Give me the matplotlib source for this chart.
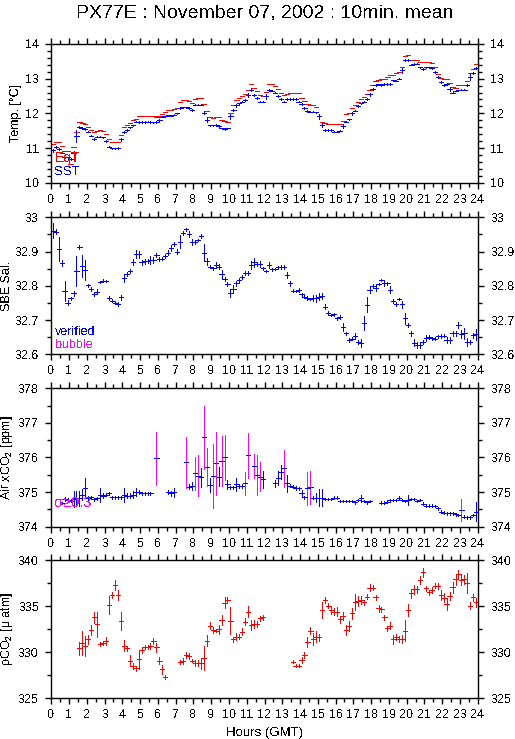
import numpy as np
import matplotlib
matplotlib.use('Agg')
import matplotlib.pyplot as plt
from matplotlib.ticker import MultipleLocator, FormatStrFormatter

nan = np.nan

# 10-minute means, 144 per day, centred on each interval
hours = (np.arange(144) + 0.5) / 6.0

sst = [
    10.94, 11.04, 10.97, 10.87, 10.73, 10.73, 10.68, 10.85, 11.35, 11.60, 11.57, 11.55,
    11.47, 11.36, 11.26, 11.33, 11.33, 11.31, 11.20, 11.04, 10.99, 10.99, 11.00, 11.25,
    11.47, 11.52, 11.60, 11.65, 11.76, 11.75, 11.75, 11.75, 11.76, 11.75, 11.74, 11.75,
    11.81, 11.90, 11.91, 11.94, 11.93, 11.96, 12.00, 12.15, 12.17, 12.17, 12.15, 12.10,
    12.25, 12.25, 12.25, 12.02, 11.81, 11.65, 11.65, 11.67, 11.64, 11.57, 11.54, 11.57,
    11.91, 12.10, 12.23, 12.29, 12.34, 12.39, 12.53, 12.68, 12.53, 12.44, 12.34, 12.34,
    12.49, 12.68, 12.65, 12.60, 12.50, 12.41, 12.34, 12.41, 12.41, 12.41, 12.41, 12.34,
    12.27, 12.15, 12.07, 12.05, 12.05, 12.03, 11.91, 11.67, 11.52, 11.52, 11.52, 11.47,
    11.47, 11.50, 11.64, 11.76, 11.83, 12.00, 12.08, 12.20, 12.29, 12.34, 12.41, 12.55,
    12.70, 12.82, 12.84, 12.82, 12.85, 12.85, 12.85, 12.95, 12.94, 13.00, 13.24, 13.55,
    13.55, 13.40, 13.42, 13.43, 13.33, 13.28, 13.33, 13.33, 13.31, 13.19, 13.05, 12.90,
    12.82, 12.85, 12.70, 12.60, 12.65, 12.66, 12.68, 12.68, 12.82, 13.04, 13.16, 13.31,
]
sst_err = [
    .045, .03, .04, .02, .02, .02, .02, .05, .17, .03, .02, .02,
    .02, .02, .03, .02, .02, .02, .04, .02, .02, .02, .02, .05,
    .03, .02, .02, .02, .02, .02, .02, .02, .02, .02, .02, .02,
    .02, .02, .02, .02, .02, .02, .02, .02, .02, .02, .02, .02,
    .02, .02, .02, .04, .07, .02, .02, .02, .02, .02, .02, .02,
    .07, .03, .05, .02, .02, .03, .05, .04, .02, .02, .02, .02,
    .08, .03, .02, .02, .02, .02, .02, .02, .02, .02, .02, .02,
    .02, .02, .02, .02, .02, .02, .06, .06, .02, .02, .02, .02,
    .02, .02, .05, .02, .02, .04, .02, .03, .02, .02, .02, .04,
    .03, .02, .02, .02, .02, .02, .02, .02, .02, .02, .08, .03,
    .03, .02, .02, .02, .02, .02, .02, .02, .02, .02, .03, .02,
    .02, .02, .05, .02, .02, .02, .02, .02, .03, .09, .04, .03,
]
eqt = [
    11.11, 11.18, 11.17, 11.05, 10.90, 10.90, 10.53, 11.02, 11.45, 11.74, 11.73, 11.70,
    11.62, 11.53, 11.47, 11.48, 11.53, 11.50, 11.40, 11.25, 11.16, 11.16, 11.16, 11.38,
    11.62, 11.65, 11.72, 11.80, 11.85, 11.92, 11.92, 11.92, 11.92, 11.92, 11.93, 11.90,
    11.92, 11.98, 12.05, 12.09, 12.10, 12.12, 12.15, 12.32, 12.37, 12.37, 12.35, 12.30,
    12.42, 12.44, 12.44, 12.28, 12.06, 11.88, 11.86, 11.90, 11.88, 11.82, 11.77, 11.74,
    12.02, 12.25, 12.38, 12.45, 12.50, 12.57, 12.68, 12.85, 12.73, 12.63, 12.52, 12.50,
    12.62, 12.85, 12.85, 12.78, 12.70, 12.60, 12.52, 12.57, 12.60, 12.60, 12.60, 12.58,
    12.44, 12.35, 12.27, 12.25, 12.25, 12.18, 11.93, 11.75, 11.72, 11.68, 11.68, 11.68,
    11.68, 11.68, 11.77, 11.97, 12.00, 12.14, 12.23, 12.33, 12.42, 12.48, 12.55, 12.68,
    12.83, 12.93, 12.97, 12.98, 13.00, 13.05, 13.10, 13.10, 13.15, 13.18, 13.35, 13.65,
    13.68, 13.55, 13.55, 13.55, 13.48, 13.48, 13.48, 13.48, 13.45, 13.33, 13.12, 13.02,
    12.98, 13.00, 12.87, 12.75, 12.72, 12.82, 12.82, 12.82, 12.93, 13.16, 13.28, 13.43,
]

sal = [
    32.961, 32.958, 32.907, 32.866, 32.785, 32.751, 32.763, 32.778, 32.843, 32.914, 32.858, 32.846,
    32.801, 32.790, 32.776, 32.783, 32.811, 32.815, 32.814, 32.763, 32.756, 32.751, 32.746, 32.766,
    32.822, 32.835, 32.842, 32.869, 32.892, 32.892, 32.868, 32.871, 32.873, 32.875, 32.875, 32.890,
    32.879, 32.879, 32.887, 32.897, 32.910, 32.921, 32.900, 32.929, 32.955, 32.965, 32.951, 32.928,
    32.929, 32.934, 32.946, 32.897, 32.871, 32.856, 32.851, 32.861, 32.856, 32.834, 32.819, 32.804,
    32.780, 32.791, 32.807, 32.817, 32.825, 32.836, 32.836, 32.861, 32.868, 32.863, 32.864, 32.851,
    32.843, 32.861, 32.848, 32.849, 32.854, 32.856, 32.854, 32.832, 32.807, 32.786, 32.785, 32.788,
    32.775, 32.768, 32.764, 32.761, 32.764, 32.764, 32.768, 32.770, 32.739, 32.720, 32.715, 32.717,
    32.705, 32.708, 32.679, 32.661, 32.642, 32.645, 32.654, 32.635, 32.634, 32.691, 32.744, 32.788,
    32.800, 32.793, 32.805, 32.817, 32.807, 32.807, 32.788, 32.756, 32.746, 32.761, 32.746, 32.705,
    32.686, 32.661, 32.634, 32.627, 32.627, 32.637, 32.647, 32.650, 32.647, 32.645, 32.652, 32.654,
    32.654, 32.642, 32.642, 32.661, 32.661, 32.686, 32.659, 32.661, 32.635, 32.635, 32.655, 32.659,
]
sal_err = [
    .021, .008, .034, .008, .029, .008, .004, .008, .043, .006, .033, .030,
    .004, .006, .006, .008, .004, .004, .004, .006, .004, .004, .006, .008,
    .012, .006, .006, .008, .012, .010, .006, .006, .006, .012, .008, .006,
    .006, .004, .006, .008, .008, .006, .006, .020, .006, .004, .008, .008,
    .006, .004, .006, .025, .010, .004, .004, .008, .008, .012, .006, .006,
    .012, .010, .008, .006, .006, .006, .006, .012, .012, .006, .008, .004,
    .004, .008, .004, .004, .004, .006, .006, .008, .008, .004, .004, .006,
    .004, .004, .006, .004, .008, .010, .010, .010, .008, .006, .004, .004,
    .004, .006, .012, .004, .006, .004, .008, .006, .012, .020, .022, .008,
    .004, .008, .004, .004, .008, .004, .010, .006, .006, .004, .010, .016,
    .006, .008, .010, .010, .008, .006, .008, .006, .004, .004, .004, .006,
    .004, .008, .008, .008, .008, .008, .012, .016, .012, .006, .008, .016,
]

air = [
    nan, nan, nan, 374.69, 374.80, 374.77, 374.75, 374.80, 374.82, 374.82, 374.93, 375.11,
    374.84, 374.85, 374.79, 374.82, 374.92, 374.90, 374.93, 374.96, 374.85, 374.85, 374.85, 374.85,
    374.92, 374.90, 374.90, 374.93, 375.00, 375.00, 374.96, 374.96, 374.96, 374.96, nan, 375.98,
    nan, nan, nan, 375.00, 374.96, 374.99, nan, nan, nan, 375.86, 375.16, 375.18,
    375.54, 375.47, 375.43, 376.58, 375.72, 375.20, 375.47, 375.83, 375.45, 375.91, 376.00, 375.22,
    375.14, 375.14, 375.22, 375.18, 375.17, 375.25, 376.06, nan, 375.75, 375.49, 375.44, 375.37,
    nan, nan, nan, 375.25, 375.40, 375.59, 375.69, 375.25, 375.18, 375.16, 375.13, 375.11,
    374.96, 374.85, 375.11, 375.14, 374.84, 374.84, 374.84, 374.84, 374.80, 374.80, 374.80, 374.84,
    374.84, 374.74, 374.74, 374.74, 374.74, 374.74, 374.70, 374.77, 374.82, 374.74, 374.70, 374.74,
    nan, nan, nan, 374.69, 374.69, 374.72, 374.77, 374.77, 374.77, 374.82, 374.77, 374.74,
    374.77, 374.80, 374.80, 374.74, 374.77, 374.67, 374.61, 374.61, 374.61, 374.60, 374.53, 374.43,
    374.40, 374.39, 374.39, 374.39, 374.36, 374.34, 374.48, 374.29, 374.27, 374.27, 374.34, 374.43,
]
air_err = [
    0, 0, 0, .03, .06, .05, .04, .22, .20, .22, .17, .29,
    .06, .04, .04, .04, .20, .08, .04, .04, .04, .04, .04, .04,
    .20, .06, .08, .10, .12, .05, .04, .04, .04, .04, 0, .77,
    0, 0, 0, .05, .06, .14, 0, 0, 0, .73, .08, .12,
    .48, .59, .28, .90, .55, .20, .92, .90, .28, .72, .65, .14,
    .04, .04, .18, .05, .05, .34, .66, 0, .35, .58, .42, .24,
    0, 0, 0, .10, .20, .20, .53, .24, .04, .04, .06, .04,
    .10, .04, .48, .48, .04, .14, .24, .24, .04, .04, .04, .04,
    .04, .04, .04, .04, .04, .04, .04, .04, .10, .04, .04, .04,
    0, 0, 0, .04, .04, .04, .04, .04, .04, .06, .04, .04,
    .14, .04, .04, .04, .04, .04, .04, .04, .04, .04, .04, .04,
    .04, .04, .04, .04, .04, .04, .32, .04, .04, .04, .04, .27,
]

pco2 = [
    nan, nan, nan, nan, nan, nan, nan, nan, nan, 330.42, 331.04, 330.68,
    331.40, 332.41, 333.78, 333.03, 330.86, 330.96, 331.25, 335.12, 336.20, 337.29, 336.20, 333.39,
    330.68, 330.42, 329.09, 328.51, 328.25, 329.23, 330.24, 330.53, 330.60, 330.68, 331.22, 330.53,
    329.09, 328.15, 327.28, nan, nan, nan, nan, 328.91, 329.05, 329.70, 329.59, 329.09,
    328.80, 328.80, 328.80, 329.34, 331.22, 332.88, 332.41, 332.34, 332.48, 333.49, 335.37, 335.66,
    333.42, 331.40, 331.69, 331.69, 332.23, 333.31, 334.40, 332.95, 333.06, 333.03, 333.68, 333.78,
    nan, nan, nan, nan, nan, nan, nan, nan, nan, 328.98, 328.54, 328.54,
    329.16, 329.70, 331.15, 332.34, 331.43, 331.69, 331.62, 334.58, 335.66, 335.05, 334.58, 334.40,
    334.40, 333.57, 333.93, 332.41, 332.84, 334.22, 335.41, 335.55, 335.66, 335.41, 336.02, 337.00,
    337.00, 335.95, 334.76, 334.65, 333.78, 332.59, 332.88, 331.40, 331.62, 331.43, 331.43, 332.34,
    334.58, 336.39, 336.82, 336.82, 337.83, 338.66, 336.93, 336.49, 336.75, 337.22, 337.18, 336.20,
    335.92, 335.23, 336.10, 337.04, 337.90, 338.45, 337.83, 337.90, 337.47, 335.05, 335.95, 335.41,
]
pco2_err = [
    0, 0, 0, 0, 0, 0, 0, 0, 0, .72, 1.3, 1.1,
    .5, .5, .6, 1.35, .2, .2, .45, 1.0, .3, .55, .5, 1.0,
    .6, .25, .6, .3, .3, 1.0, .3, .2, .2, .3, .3, .5,
    .4, .5, .2, 0, 0, 0, 0, .2, .3, .35, .3, .2,
    .3, .3, .6, 1.3, .6, .4, .3, .2, .5, .5, .6, .35,
    1.5, .3, .4, .3, .4, .4, .6, .5, .4, .3, .3, .3,
    0, 0, 0, 0, 0, 0, 0, 0, 0, .2, .2, .2,
    .3, .3, .55, .35, .6, .6, .4, .9, .3, .3, .4, .4,
    .5, .4, .4, .55, .5, .6, .85, .5, .4, .3, .3, .4,
    .3, .3, .4, .3, .3, .3, .4, .5, .3, .3, .4, 1.1,
    .6, .5, .5, .4, .4, .5, .3, .3, .3, .3, .3, .5,
    .5, .6, .4, .6, .6, .5, .5, .5, 1.1, .4, .4, .5,
]

SIGMA_FLAG = 0.3
HALF = 0.12       # half width of the 10-min bar, hours
LW = 0.72         # one pixel at 100 dpi

plt.rcParams['font.family'] = ['Liberation Sans', 'DejaVu Sans']
plt.rcParams['mathtext.fontset'] = 'custom'
plt.rcParams['mathtext.rm'] = 'Liberation Sans'
plt.rcParams['mathtext.it'] = 'Liberation Sans:italic'
plt.rcParams['lines.antialiased'] = False
plt.rcParams['text.antialiased'] = False

BLUE, RED, MAG = '#0000ff', '#ff0000', '#ff00ff'
FS = 9

fig = plt.figure(figsize=(5.15, 7.39), dpi=100)
L, W = 0.0996, 0.828
boxes = [(0.7528, 0.1877), (0.5206, 0.1854), (0.2873, 0.1873), (0.0551, 0.1871)]
axes = [fig.add_axes([L, b, W, h]) for b, h in boxes]


def style(ax, ylim, major, minor, fmt):
    ax.set_xlim(0, 24)
    ax.set_ylim(*ylim)
    ax.xaxis.set_major_locator(MultipleLocator(1))
    ax.xaxis.set_minor_locator(MultipleLocator(0.5))
    ax.yaxis.set_major_locator(MultipleLocator(major))
    ax.yaxis.set_minor_locator(MultipleLocator(minor))
    ax.yaxis.set_major_formatter(FormatStrFormatter(fmt))
    ax.tick_params(which='both', direction='out', top=True, right=True,
                   labelright=True, labelsize=FS, width=1)
    ax.tick_params(axis='x', pad=3.5)
    ax.tick_params(axis='y', pad=4.5)
    ax.tick_params(which='major', length=4.5)
    ax.tick_params(which='minor', length=3)
    for s in ax.spines.values():
        s.set_linewidth(1)


def label(ax, x, y, s, color, size=FS):
    ax.text(x, y, s, color=color, fontsize=size, transform=ax.transAxes,
            va='center', zorder=10)


def bars(ax, x, y, xerr=None, yerr=None, color=BLUE):
    ax.errorbar(x, y, xerr=xerr, yerr=yerr, fmt='none', ecolor=color,
                elinewidth=LW, capsize=0)


t = hours
ax = axes[0]
bars(ax, t, eqt, xerr=HALF, color=RED)
bars(ax, t, sst, xerr=HALF, yerr=sst_err)
style(ax, (10, 14), 1, 0.2, '%g')
ax.set_ylabel('Temp. [°C]', fontsize=9, labelpad=2)
label(ax, 0.008, 0.178, 'EqT', RED, 10)
label(ax, 0.008, 0.077, 'SST', BLUE, 9.5)

ax = axes[1]
bars(ax, t, sal, xerr=HALF, yerr=sal_err)
style(ax, (32.6, 33.0), 0.1, 0.05, '%g')
ax.set_ylabel('SBE Sal.', fontsize=9, labelpad=1)
label(ax, 0.008, 0.163, 'verified', BLUE)
label(ax, 0.008, 0.068, 'bubble', MAG)

ax = axes[2]
air = np.array(air)
air_err = np.array(air_err)
bad = air_err >= SIGMA_FLAG
bars(ax, t[~bad], air[~bad], yerr=air_err[~bad])
bars(ax, t[bad], air[bad], yerr=air_err[bad], color=MAG)
bars(ax, t, air, xerr=HALF)
style(ax, (374, 378), 1, 0.5, '%g')
ax.set_ylabel('Air xCO$_2$ [ppm]', fontsize=9, labelpad=2)
label(ax, 0.008, 0.171, 'σ≥0.3', MAG, 10.5)

ax = axes[3]
bars(ax, t, pco2, xerr=HALF, yerr=pco2_err, color=RED)
style(ax, (325, 340), 5, 2.5, '%g')
ax.set_ylabel('ρCO$_2$ [μ atm]', fontsize=9, labelpad=2)
ax.set_xlabel('Hours (GMT)', fontsize=9.5, labelpad=4)

fig.text(0.5146, 1 - 13 / 739, 'PX77E : November 07, 2002 : 10min. mean',
         ha='center', va='center', fontsize=14)

fig.savefig('out.png', dpi=100)
